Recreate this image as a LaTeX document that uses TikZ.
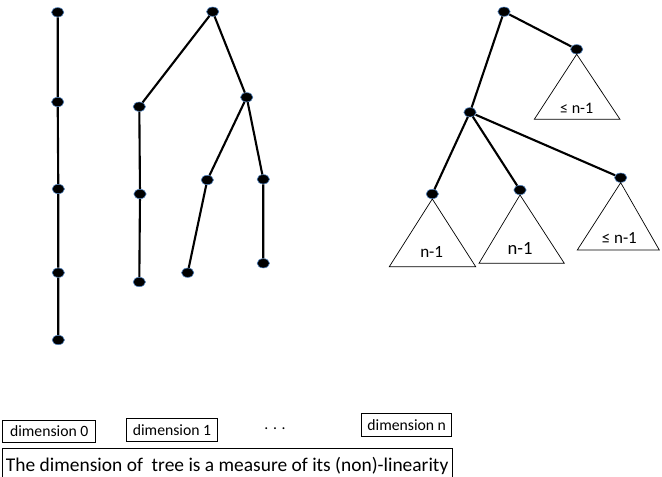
\documentclass[tikz,border=0pt]{standalone}
\usepackage{fontspec}
\setmainfont{Carlito}
\usetikzlibrary{shapes.geometric}
\definecolor{dotrim}{RGB}{79,129,189}

\tikzset{
  dot/.style={ellipse,fill=black,draw=dotrim,line width=0.5pt,
    minimum width=0.37cm,minimum height=0.28cm,inner sep=0pt},
  edge/.style={line width=1.8pt},
  subtree/.style={line width=0.6pt},
  dimbox/.style={draw,line width=0.5pt,inner sep=0pt,font=\fontsize{13.4}{15}\selectfont},
}

\begin{document}
\begin{tikzpicture}[x=0.03cm,y=-0.03cm]
  \useasboundingbox (0,0) rectangle (662,477);
  % dimension 0: a path
  \node[dot] (a0) at (57.7,12.3) {};
  \node[dot] (a1) at (57.7,102) {};
  \node[dot] (a2) at (58.3,189) {};
  \node[dot] (a3) at (58.3,272.7) {};
  \node[dot] (a4) at (58.3,340) {};
  \draw[edge] (a0) -- (a1) -- (a2) -- (a3) -- (a4);
  % dimension 1
  \node[dot] (b0) at (212.7,11.7) {};
  \node[dot] (b1) at (139.3,106.7) {};
  \node[dot] (b2) at (140,194) {};
  \node[dot] (b3) at (139.3,282) {};
  \node[dot] (b4) at (246.7,97.3) {};
  \node[dot] (b5) at (207.3,180) {};
  \node[dot] (b6) at (263.3,179.3) {};
  \node[dot] (b7) at (187.7,272.7) {};
  \node[dot] (b8) at (263.3,263.3) {};
  \draw[edge] (b0) -- (b1) -- (b2) -- (b3);
  \draw[edge] (b0) -- (b4) -- (b5) -- (b7);
  \draw[edge] (b4) -- (b6) -- (b8);
  % dimension n
  \node[dot] (c0) at (504,11.7) {};
  \node[dot] (c1) at (576.7,49.3) {};
  \node[dot] (c2) at (470,112.3) {};
  \node[dot] (c3) at (432.3,194) {};
  \node[dot] (c4) at (520,190) {};
  \node[dot] (c5) at (620.7,177.7) {};
  \draw[edge] (c0) -- (c1);
  \draw[edge] (c0) -- (c2);
  \draw[edge] (c2) -- (c3);
  \draw[edge] (c2) -- (c4);
  \draw[edge] (c2) -- (c5);
  \draw[subtree] (c1.south) -- (534.3,119.3) -- (620,119.3) -- cycle;
  \draw[subtree] (c3.south) -- (389.3,266.7) -- (475.7,266.7) -- cycle;
  \draw[subtree] (c4.south) -- (479,263.3) -- (564.3,263.3) -- cycle;
  \draw[subtree] (c5.south) -- (577.3,250) -- (659.3,250) -- cycle;
  \node[font=\fontsize{13.7}{15}\selectfont] (t1) at (576.7,108.3) {≤ n-1};
  \node[font=\fontsize{14.6}{16}\selectfont] (t3) at (431.7,251.7) {n-1};
  \node[font=\fontsize{15.9}{17}\selectfont] (t4) at (520,248.3) {n-1};
  \node[font=\fontsize{14.5}{16}\selectfont] (t5) at (619.3,238.3) {≤ n-1};
  % labels
  \node[dimbox,minimum width=2.79cm,minimum height=0.68cm] (d0) at (49.2,431.3) {dimension 0};
  \node[dimbox,minimum width=2.72cm,minimum height=0.71cm] (d1) at (172,429.9) {dimension 1};
  \node[font=\fontsize{13.4}{15}\selectfont] (dots) at (275,429) {. . .};
  \node[dimbox,minimum width=2.70cm,minimum height=0.70cm] (dn) at (406.7,425) {dimension n};
  \node[draw,line width=0.5pt,minimum width=13.47cm,minimum height=1.08cm,
    font=\fontsize{16.6}{18}\selectfont] (msg) at (227.2,466.3)
    {The dimension of~ tree is a measure of its (non)-linearity};
\end{tikzpicture}
\end{document}
